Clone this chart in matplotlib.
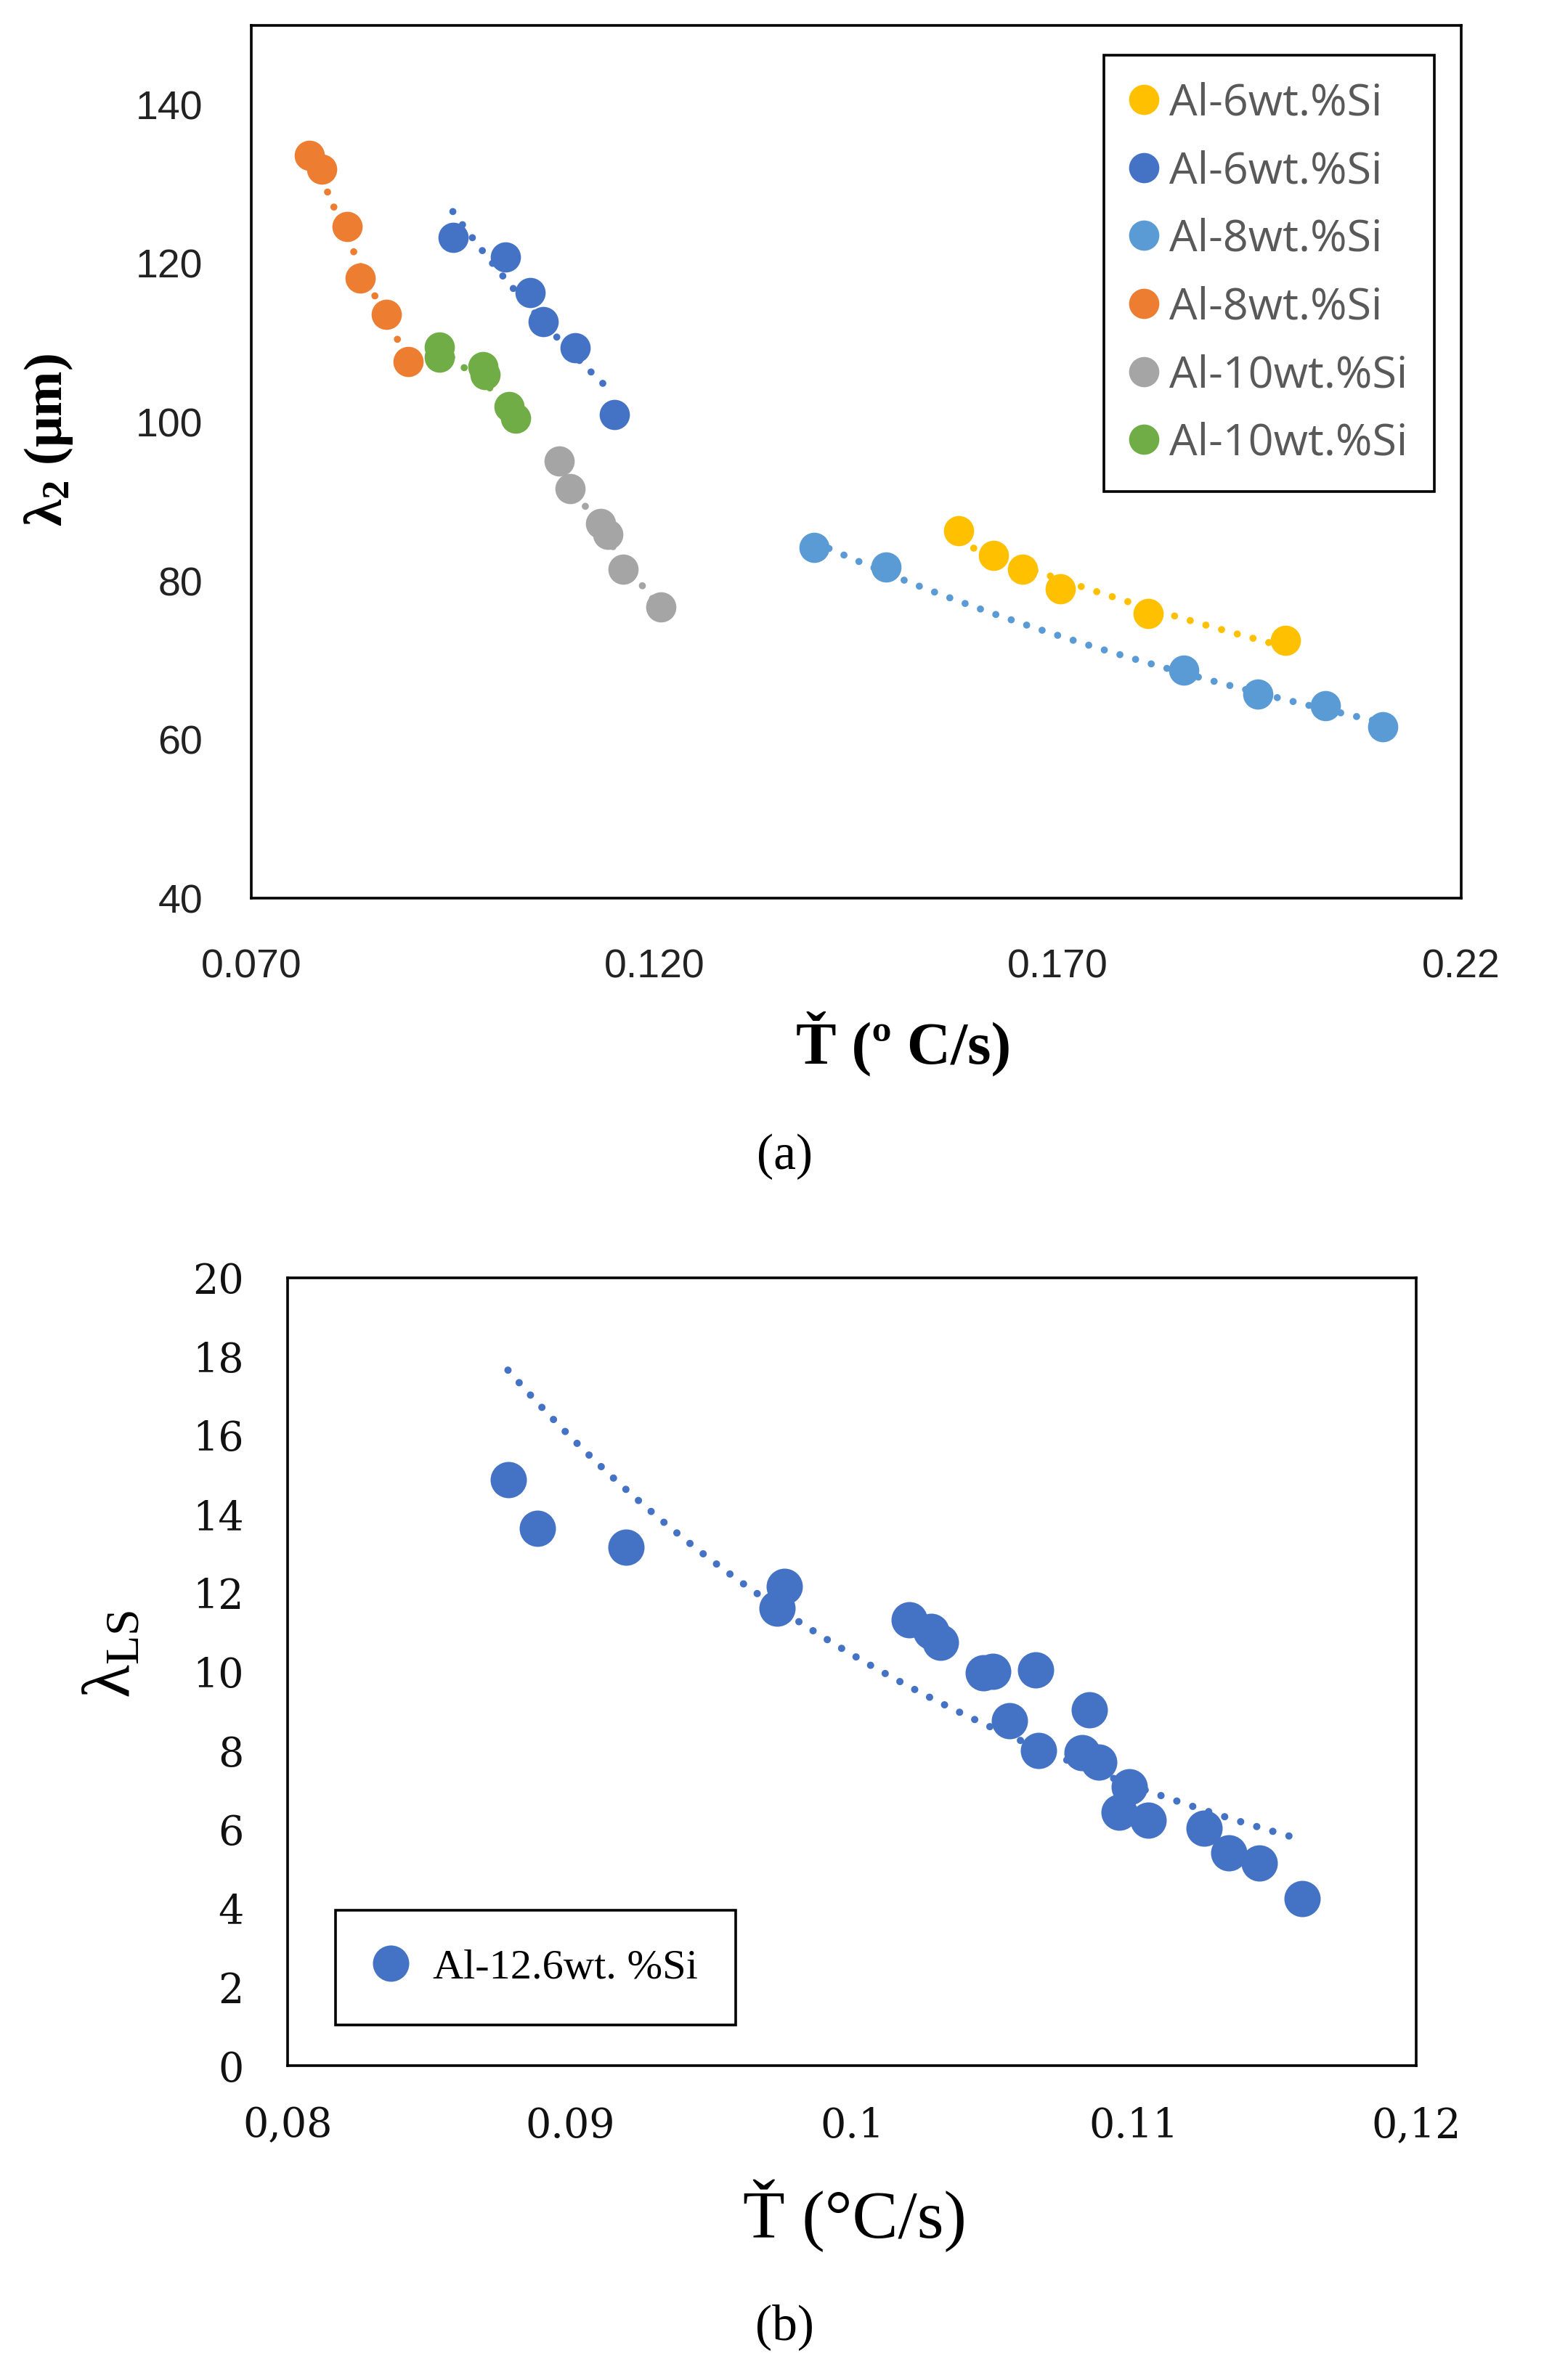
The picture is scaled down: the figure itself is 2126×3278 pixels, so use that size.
import matplotlib
matplotlib.use('Agg')
import matplotlib.pyplot as plt
import numpy as np

plt.rcParams['font.family'] = ['Liberation Sans', 'DejaVu Sans']
plt.rcParams['mathtext.default'] = 'regular'

# ---- panel (a): secondary dendrite arm spacing vs cooling rate ----
al6_a_x = [0.1577, 0.1620, 0.1656, 0.1703, 0.1812, 0.1982]
al6_a_y = [86.3, 83.2, 81.5, 79.0, 75.9, 72.5]
al6_b_x = [0.0950, 0.1015, 0.1046, 0.1062, 0.1102, 0.1150]
al6_b_y = [123.3, 120.8, 116.3, 112.7, 109.4, 101.0]
al8_a_x = [0.1398, 0.1487, 0.1856, 0.1948, 0.2032, 0.2103]
al8_a_y = [84.2, 81.7, 68.7, 65.7, 64.3, 61.6]
al8_b_x = [0.0772, 0.0787, 0.0819, 0.0835, 0.0868, 0.0895]
al8_b_y = [133.6, 131.9, 124.7, 118.2, 113.6, 107.6]
al10_a_x = [0.1082, 0.1095, 0.1133, 0.1142, 0.1161, 0.1208]
al10_a_y = [95.1, 91.6, 87.2, 85.9, 81.5, 76.7]
al10_b_x = [0.0933, 0.0933, 0.0987, 0.0990, 0.1020, 0.1028]
al10_b_y = [109.5, 108.2, 107.0, 106.0, 102.0, 100.5]

labels_a = ['Al-6wt.%Si', 'Al-6wt.%Si', 'Al-8wt.%Si', 'Al-8wt.%Si', 'Al-10wt.%Si', 'Al-10wt.%Si']
colors_a = ['#FFC000', '#4472C4', '#5B9BD5', '#ED7D31', '#A5A5A5', '#70AD47']
xs_a = [al6_a_x, al6_b_x, al8_a_x, al8_b_x, al10_a_x, al10_b_x]
ys_a = [al6_a_y, al6_b_y, al8_a_y, al8_b_y, al10_a_y, al10_b_y]
xticks_a = [0.07, 0.12, 0.17, 0.22]
xticklabels_a = ['0.070', '0.120', '0.170', '0.22']
yticks_a = [40, 60, 80, 100, 120, 140]

# ---- panel (b): eutectic spacing ----
lam_x = [0.08782, 0.08885, 0.09198, 0.09760, 0.09734, 0.10203, 0.10280, 0.10313,
         0.10466, 0.10498, 0.10652, 0.10559, 0.10660, 0.10841, 0.10816, 0.10876,
         0.10984, 0.10947, 0.11051, 0.11249, 0.11337, 0.11443, 0.11595]
lam_y = [14.87, 13.64, 13.17, 12.17, 11.62, 11.32, 11.02, 10.75,
         9.98, 10.02, 10.04, 8.75, 8.01, 9.03, 7.94, 7.71,
         7.09, 6.43, 6.23, 6.03, 5.41, 5.14, 4.25]
# power trendline: y = A * x**B
trend_b_A = 9.52e-4
trend_b_B = -4.04
trend_b_range = (0.0878, 0.1156)
xticks_b = [0.08, 0.09, 0.10, 0.11, 0.12]
xticklabels_b = ['0,08', '0.09', '0.1', '0.11', '0,12']
yticks_b = list(range(0, 21, 2))

DOTS = (0, (0.01, 2.3))

fig = plt.figure(figsize=(2126 / 200, 3278 / 200), dpi=200)

# panel (a)
ax1 = fig.add_axes([0.1627, 0.6226, 0.7835, 0.3667])
for x, y, c, lab in zip(xs_a, ys_a, colors_a, labels_a):
    x = np.array(x)
    y = np.array(y)
    ax1.plot(x, y, 'o', ms=15, mec='none', color=c, label=lab, zorder=3)
    p = np.polyfit(np.log(x), np.log(y), 1)
    xf = np.linspace(x.min(), x.max(), 100)
    ax1.plot(xf, np.exp(p[1]) * xf ** p[0], color=c, lw=3.5, ls=DOTS,
             dash_capstyle='round', zorder=4)

ax1.set_xlim(0.07, 0.22)
ax1.set_ylim(40, 150)
ax1.set_xticks(xticks_a)
ax1.set_xticklabels(xticklabels_a)
ax1.set_yticks(yticks_a)
ax1.tick_params(length=0, labelsize=20, labelcolor='#222222')
ax1.tick_params(axis='y', pad=24)
ax1.tick_params(axis='x', pad=25)
for s in ax1.spines.values():
    s.set_linewidth(1.3)
    s.set_color('black')

leg = ax1.legend(loc='upper right', bbox_to_anchor=(0.978, 0.966), borderaxespad=0,
                 fancybox=False, edgecolor='black', framealpha=1,
                 prop={'family': 'Open Sans', 'size': 22}, labelcolor='#595959',
                 handlelength=0.6, handletextpad=0.27, labelspacing=0.55, borderpad=0.6)
leg.get_frame().set_linewidth(1.3)

fig.text(0.0315, 0.815, 'λ$_{2}$ (μm)', rotation=90, ha='center', va='center',
         family='Liberation Serif', fontweight='bold', fontsize=27)
fig.text(0.585, 0.5612, 'Ť (º C/s)', ha='center', va='center',
         family='Liberation Serif', fontweight='bold', fontsize=30)
fig.text(0.508, 0.514, '(a)', ha='center', va='center',
         family='Liberation Serif', fontsize=25)

# panel (b)
ax2 = fig.add_axes([0.1865, 0.132, 0.7307, 0.3311])
ax2.plot(lam_x, lam_y, 'o', ms=18, mec='none', color='#4472C4',
         label='Al-12.6wt. %Si', zorder=3)
xt = np.linspace(trend_b_range[0], trend_b_range[1], 100)
ax2.plot(xt, trend_b_A * xt ** trend_b_B, color='#4472C4', lw=3.6, ls=DOTS,
         dash_capstyle='round', zorder=4)
ax2.set_xlim(0.08, 0.12)
ax2.set_ylim(0, 20)
ax2.set_xticks(xticks_b)
ax2.set_xticklabels(xticklabels_b)
ax2.set_yticks(yticks_b)
ax2.tick_params(length=0, labelsize=20, labelcolor='#111111')
ax2.tick_params(axis='y', pad=22)
ax2.tick_params(axis='x', pad=20)
for t in ax2.get_xticklabels() + ax2.get_yticklabels():
    t.set_family('DejaVu Serif')
for s in ax2.spines.values():
    s.set_linewidth(1.3)
    s.set_color('black')

leg2 = ax2.legend(loc='upper left', bbox_to_anchor=(0.042, 0.197), borderaxespad=0,
                  fancybox=False, edgecolor='black', framealpha=1,
                  prop={'family': 'Liberation Serif', 'size': 21},
                  handlelength=0.8, handletextpad=0.6, borderpad=0.9, markerscale=1.0)
leg2.get_frame().set_linewidth(1.3)

fig.text(0.0737, 0.305, 'λ$_{LS}$', rotation=90, ha='center', va='center',
         family='Liberation Serif', fontsize=34)
fig.text(0.5536, 0.0689, 'Ť (°C/s)', ha='center', va='center',
         family='Liberation Serif', fontsize=34)
fig.text(0.508, 0.0223, '(b)', ha='center', va='center',
         family='Liberation Serif', fontsize=25)

fig.savefig('out.png', dpi=200, facecolor='white')
